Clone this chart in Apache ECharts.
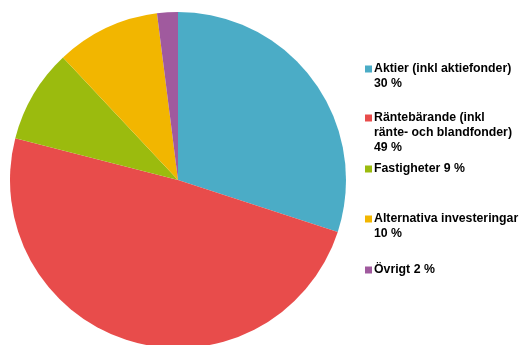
<!DOCTYPE html>
<html>
<head>
<meta charset="utf-8">
<script src="https://cdn.jsdelivr.net/npm/echarts@6/dist/echarts.min.js"></script>
<style>
  html, body { margin: 0; padding: 0; background: #ffffff; }
  #chart { width: 522px; height: 345px; }
</style>
</head>
<body>
<div id="chart"></div>
<script>
// Allocation categories, their shares (%) and legend labels
const categories = [
  'Aktier (inkl aktiefonder)',
  'Räntebärande (inkl ränte- och blandfonder)',
  'Fastigheter',
  'Alternativa investeringar',
  'Övrigt'
];
const shares = [30, 49, 9, 10, 2];
const legendLines = [
  ['Aktier (inkl aktiefonder)', '30 %'],
  ['Räntebärande (inkl', 'ränte- och blandfonder)', '49 %'],
  ['Fastigheter 9 %'],
  ['Alternativa investeringar', '10 %'],
  ['Övrigt 2 %']
];
const colors = ['#4bacc6', '#e84c4b', '#9bbb0e', '#f2b600', '#a05a9e'];

// Vertical position (first-line centre) of each legend entry
const legendTops = [69, 118, 169, 219, 270];

const legendGraphics = [];
categories.forEach((name, i) => {
  const y = legendTops[i];
  legendGraphics.push({
    type: 'rect',
    shape: { x: 365, y: y - 3.5, width: 7, height: 7 },
    style: { fill: colors[i] }
  });
  legendGraphics.push({
    type: 'text',
    x: 374,
    y: y - 8,
    style: {
      text: legendLines[i].join('\n'),
      font: 'bold 12.3px "Liberation Sans", Arial, sans-serif',
      fill: '#000000',
      lineHeight: 15,
      textVerticalAlign: 'top'
    }
  });
});

const chart = echarts.init(document.getElementById('chart'), null, { renderer: 'canvas' });
chart.setOption({
  animation: false,
  backgroundColor: '#ffffff',
  color: colors,
  series: [{
    type: 'pie',
    center: [178, 180],
    radius: 168,
    startAngle: 90,
    clockwise: true,
    label: { show: false },
    labelLine: { show: false },
    itemStyle: { borderWidth: 0 },
    emphasis: { disabled: true },
    data: categories.map((name, i) => ({ name: name, value: shares[i] }))
  }],
  graphic: legendGraphics
});
</script>
</body>
</html>
